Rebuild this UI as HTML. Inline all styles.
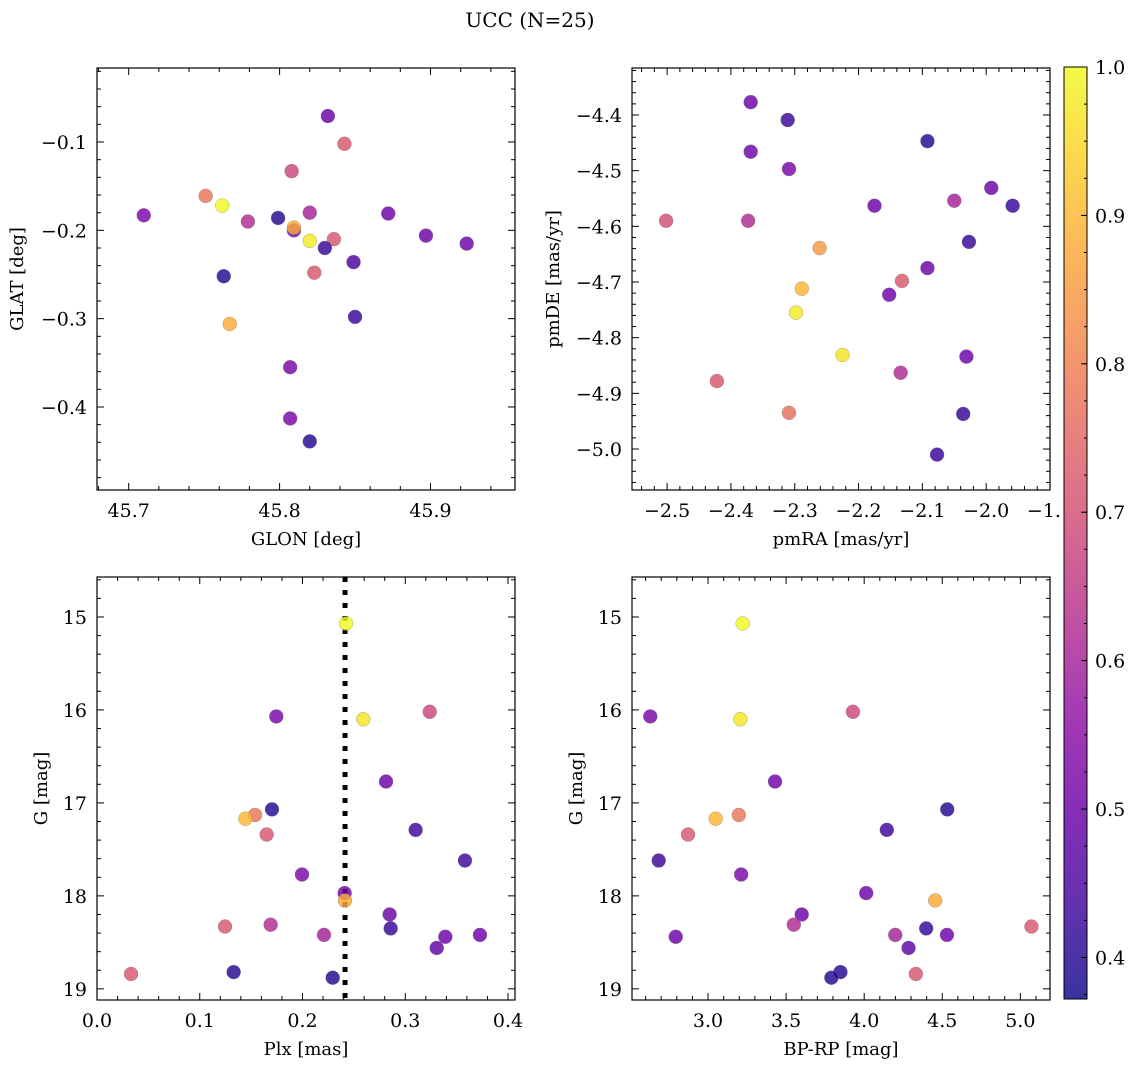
<!DOCTYPE html>
<html><head><meta charset="utf-8">
<style>
html,body{margin:0;padding:0;background:#fff;}
svg{display:block;font-family:"DejaVu Serif","Liberation Serif",serif;}
</style></head>
<body>
<svg id="fig" width="1136" height="1067" viewBox="0 0 1136 1067" xmlns="http://www.w3.org/2000/svg">
<defs>
<linearGradient id="plasma" x1="0" y1="1" x2="0" y2="0">
<stop offset="0" stop-color="#0d0887"/><stop offset="0.1" stop-color="#41049d"/><stop offset="0.2" stop-color="#6a00a8"/><stop offset="0.3" stop-color="#8f0da4"/><stop offset="0.4" stop-color="#b12a90"/><stop offset="0.5" stop-color="#cc4778"/><stop offset="0.6" stop-color="#e16462"/><stop offset="0.7" stop-color="#f2844b"/><stop offset="0.8" stop-color="#fca636"/><stop offset="0.9" stop-color="#fcce25"/><stop offset="1" stop-color="#f0f921"/>
</linearGradient>
</defs>
<text x="530" y="27" font-size="20" text-anchor="middle">UCC (N=25)</text>
</svg>
<script>
// Panel 1: GLON / GLAT
const p1X = [45.710,45.751,45.762,45.779,45.799,45.8095,45.8095,45.808,45.820,45.820,45.832,45.843,45.836,45.830,45.823,45.849,45.872,45.897,45.924,45.763,45.767,45.850,45.807,45.807,45.820];
const p1Y = [-0.183,-0.161,-0.172,-0.190,-0.186,-0.200,-0.197,-0.133,-0.180,-0.212,-0.0706,-0.102,-0.210,-0.220,-0.248,-0.236,-0.181,-0.206,-0.215,-0.252,-0.306,-0.298,-0.355,-0.413,-0.439];
const p1C = [0.52,0.78,1.0,0.62,0.40,0.50,0.88,0.68,0.60,0.98,0.50,0.72,0.72,0.42,0.72,0.45,0.50,0.50,0.50,0.40,0.88,0.42,0.52,0.52,0.40];
// Panel 2: pmRA / pmDE
const p2X = [-2.5016,-2.369,-2.369,-2.373,-2.311,-2.309,-2.261,-2.289,-2.298,-2.225,-2.175,-2.152,-2.132,-2.092,-2.092,-2.134,-2.422,-2.309,-2.050,-1.992,-1.9585,-2.027,-2.031,-2.036,-2.077];
const p2Y = [-4.590,-4.377,-4.466,-4.590,-4.409,-4.497,-4.639,-4.712,-4.755,-4.831,-4.563,-4.723,-4.698,-4.675,-4.447,-4.863,-4.878,-4.935,-4.554,-4.531,-4.563,-4.628,-4.834,-4.937,-5.010];
const p2C = [0.70,0.50,0.50,0.62,0.43,0.52,0.85,0.90,0.98,0.97,0.50,0.50,0.72,0.50,0.40,0.62,0.72,0.77,0.60,0.50,0.42,0.42,0.50,0.42,0.42];
// Panel 3: Plx / G
const p3X = [0.2423,0.1745,0.2592,0.3238,0.2813,0.1703,0.1538,0.1444,0.1651,0.3101,0.3581,0.1995,0.2410,0.2413,0.2848,0.2858,0.1246,0.1690,0.2209,0.3390,0.3727,0.3306,0.0331,0.1330,0.2294];
const p3Y = [15.07,16.07,16.10,16.02,16.77,17.07,17.13,17.17,17.34,17.29,17.62,17.77,17.97,18.05,18.20,18.35,18.33,18.31,18.42,18.44,18.42,18.56,18.84,18.82,18.88];
const p3C = [1.0,0.52,0.97,0.68,0.50,0.40,0.78,0.90,0.72,0.43,0.43,0.52,0.50,0.88,0.50,0.42,0.72,0.62,0.60,0.50,0.50,0.48,0.72,0.40,0.40];
const plxLine = [0.2414];
// Panel 4: BP-RP / G
const p4X = [3.222,3.207,2.630,3.928,3.429,4.532,3.197,3.049,2.872,4.145,2.684,3.212,4.013,4.455,3.600,4.397,5.071,3.549,4.199,2.793,4.530,4.284,4.331,3.848,3.790];
const p4Y = [15.07,16.10,16.07,16.02,16.77,17.07,17.13,17.17,17.34,17.29,17.62,17.77,17.97,18.05,18.20,18.35,18.33,18.31,18.42,18.44,18.42,18.56,18.84,18.82,18.88];
const p4C = [1.0,0.97,0.52,0.68,0.50,0.40,0.78,0.90,0.72,0.43,0.43,0.52,0.50,0.88,0.50,0.42,0.72,0.62,0.60,0.50,0.50,0.48,0.72,0.40,0.40];
// Colorbar
const cbTicks = [0.4,0.5,0.6,0.7,0.8,0.9,1.0];
const cbMin = 0.372, cbMax = 1.0;

const NS = "http://www.w3.org/2000/svg";
const svg = document.getElementById("fig");
function mk(tag, attrs, parent){
  const e = document.createElementNS(NS, tag);
  for (const k in attrs) e.setAttribute(k, attrs[k]);
  (parent||svg).appendChild(e);
  return e;
}
const stops = [[13,8,135],[65,4,157],[106,0,168],[143,13,164],[177,42,144],[204,71,120],[225,100,98],[242,132,75],[252,166,54],[252,206,37],[240,249,33]];
function plasma(v){
  let t = (v-cbMin)/(cbMax-cbMin); t=Math.max(0,Math.min(1,t))*10;
  const i=Math.min(9,Math.floor(t)), f=t-i, a=stops[i], b=stops[i+1];
  return "rgb("+a.map((x,j)=>Math.round(x+(b[j]-x)*f)).join(",")+")";
}
function fmt(v,d){ const s=Math.abs(v).toFixed(d); return (v<-1e-9?"\u2212":"")+s; }

function panel(o){
  const g = mk("g",{});
  
  
  const sx = v => o.L + (v-o.x0)/(o.x1-o.x0)*(o.R-o.L);
  const sy = v => o.yinv ? o.T + (v-o.y0)/(o.y1-o.y0)*(o.B-o.T) : o.B - (v-o.y0)/(o.y1-o.y0)*(o.B-o.T);
  const tg = mk("g",{stroke:"#000","stroke-width":1},g);
  const lo=Math.min(o.x0,o.x1), hi=Math.max(o.x0,o.x1);
  for(let v=Math.ceil(lo/o.xmin-1e-6)*o.xmin; v<=hi+1e-9; v+=o.xmin){
    const major = Math.abs(v/o.xmaj-Math.round(v/o.xmaj))<1e-6, len=major?7:4, x=sx(v);
    mk("line",{x1:x,x2:x,y1:o.B,y2:o.B-len},tg); mk("line",{x1:x,x2:x,y1:o.T,y2:o.T+len},tg);
    if(major){ const t=mk("text",{x:x,y:o.B+27,"font-size":19,"text-anchor":"middle",stroke:"none",fill:"#000"},g); t.textContent=fmt(v,o.xd);
        }
  }
  const ylo=Math.min(o.y0,o.y1), yhi=Math.max(o.y0,o.y1);
  for(let v=Math.ceil(ylo/o.ymin-1e-6)*o.ymin; v<=yhi+1e-9; v+=o.ymin){
    const major = Math.abs(v/o.ymaj-Math.round(v/o.ymaj))<1e-6, len=major?7:4, y=sy(v);
    mk("line",{x1:o.L,x2:o.L+len,y1:y,y2:y},tg); mk("line",{x1:o.R,x2:o.R-len,y1:y,y2:y},tg);
    if(major){ const t=mk("text",{x:o.L-10,y:y+7,"font-size":19,"text-anchor":"end",stroke:"none",fill:"#000"},g); t.textContent=fmt(v,o.yd);
        }
  }
  if(o.vline){ for(const v of o.vline){ const l=mk("line",{x1:sx(v),x2:sx(v),y1:o.T,y2:o.B,stroke:"#000","stroke-width":5,"stroke-dasharray":"5,8"},g);
      } }
  for(let i=0;i<o.xs.length;i++){
    const c=mk("circle",{cx:sx(o.xs[i]),cy:sy(o.ys[i]),r:7,fill:plasma(o.cs[i]),"fill-opacity":0.82,stroke:"#777","stroke-width":0.5,"stroke-opacity":0.6},g);
    
    
  }
  const fr=mk("rect",{x:o.L,y:o.T,width:o.R-o.L,height:o.B-o.T,fill:"none",stroke:"#000","stroke-width":1.2},g);
   
  const xl=mk("text",{x:(o.L+o.R)/2,y:o.B+55,"font-size":18,"text-anchor":"middle"},g); xl.textContent=o.xlabel;
   
  const yl=mk("text",{x:0,y:0,"font-size":18,"text-anchor":"middle",transform:"translate("+o.ylx+","+(o.T+o.B)/2+") rotate(-90)"},g); yl.textContent=o.ylabel;
   
}
panel({name:"glon-glat-panel",L:97,R:515,T:68,B:490,x0:45.679,x1:45.956,y0:-0.494,y1:-0.0162,xmaj:0.1,xmin:0.02,ymaj:0.1,ymin:0.02,xd:1,yd:1,xs:p1X,ys:p1Y,cs:p1C,xlabel:"GLON [deg]",ylabel:"GLAT [deg]",ylx:23});
panel({name:"proper-motion-panel",L:632,R:1050,T:68,B:490,x0:-2.555,x1:-1.9,y0:-5.0736,y1:-4.3156,xmaj:0.1,xmin:0.02,ymaj:0.1,ymin:0.02,xd:1,yd:1,xs:p2X,ys:p2Y,cs:p2C,xlabel:"pmRA [mas/yr]",ylabel:"pmDE [mas/yr]",ylx:559});
panel({name:"plx-g-panel",L:97,R:515,T:577,B:1000,x0:0,x1:0.4068,y0:14.57,y1:19.12,yinv:true,xmaj:0.1,xmin:0.02,ymaj:1,ymin:0.2,xd:1,yd:0,xs:p3X,ys:p3Y,cs:p3C,vline:plxLine,xlabel:"Plx [mas]",ylabel:"G [mag]",ylx:47});
panel({name:"cmd-panel",L:632,R:1050,T:577,B:1000,x0:2.513,x1:5.19,y0:14.57,y1:19.12,yinv:true,xmaj:0.5,xmin:0.1,ymaj:1,ymin:0.2,xd:1,yd:0,xs:p4X,ys:p4Y,cs:p4C,xlabel:"BP-RP [mag]",ylabel:"G [mag]",ylx:582});

const cb = mk("g",{});


const cT=67, cB=999, cL=1064, cR=1087;
mk("rect",{x:cL-2,y:cT,width:cR-cL+4,height:cB-cT,fill:"#fff"},cb);
mk("rect",{x:cL,y:cT,width:cR-cL,height:cB-cT,fill:"url(#plasma)","fill-opacity":0.82},cb);
mk("rect",{x:cL,y:cT,width:cR-cL,height:cB-cT,fill:"none",stroke:"#000","stroke-width":1},cb);
const cy = v => cB - (v-cbMin)/(cbMax-cbMin)*(cB-cT);
for(let v=0.375; v<=1.0001; v+=0.025){ const y=cy(v); mk("line",{x1:cR,x2:cR-3,y1:y,y2:y,stroke:"#000"},cb); }
for(const v of cbTicks){
  const y=cy(v);
  mk("line",{x1:cR,x2:cR-6,y1:y,y2:y,stroke:"#000"},cb);
  const t=mk("text",{x:cR+8,y:y+7,"font-size":19},cb); t.textContent=v.toFixed(1);
  
  
}
</script>
</body></html>
